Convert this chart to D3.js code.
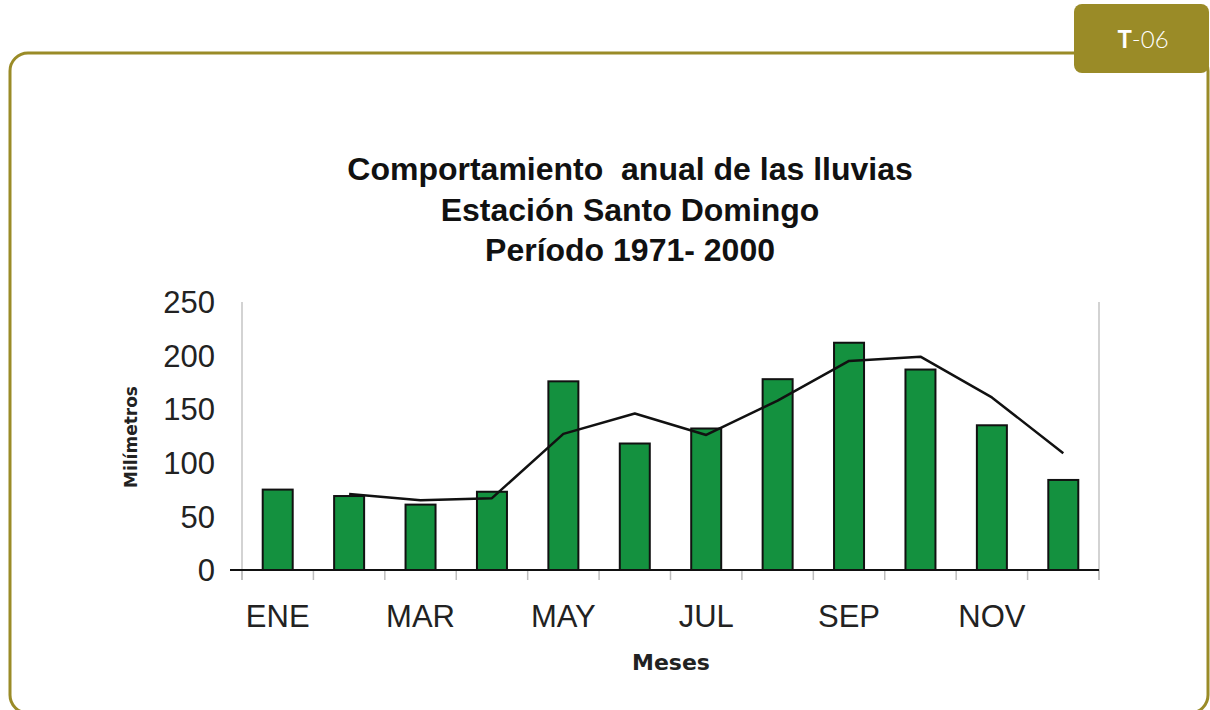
<!DOCTYPE html>
<html><head><meta charset="utf-8">
<script src="https://cdn.jsdelivr.net/npm/d3@7/dist/d3.min.js"></script>
<style>html,body{margin:0;padding:0;background:#fff;}svg{display:block;}</style>
</head><body>
<svg id="c" width="1210" height="710"></svg>
<script>
const months = ["ENE","FEB","MAR","ABR","MAY","JUN","JUL","AGO","SEP","OCT","NOV","DIC"];
const rainfall = [75, 69, 61, 73, 176, 118, 132, 178, 212, 187, 135, 84];
const trendMonths = ["FEB","MAR","ABR","MAY","JUN","JUL","AGO","SEP","OCT","NOV","DIC"];
const trendValues = [71, 65, 67, 127, 146, 126, 158, 195, 199, 161, 109];
const yTicks = [0, 50, 100, 150, 200, 250];
const xLabelMonths = ["ENE","MAR","MAY","JUL","SEP","NOV"];
const titleLines = ["Comportamiento  anual de las lluvias", "Estación Santo Domingo", "Período 1971- 2000"];

const olive = "#9a8b27";
const green = "#14913f";
const svg = d3.select("#c");

// frame
svg.append("rect").attr("x", 10).attr("y", 53).attr("width", 1198).attr("height", 660)
  .attr("rx", 18).attr("fill", "none").attr("stroke", olive).attr("stroke-width", 3);
// tab
svg.append("rect").attr("x", 1074).attr("y", 4).attr("width", 135).attr("height", 69)
  .attr("rx", 8).attr("fill", olive);
const tabT = svg.append("text").attr("x", 1143).attr("y", 48).attr("text-anchor", "middle")
  .attr("fill", "#fff").attr("font-family", "Lato, 'Open Sans', sans-serif").attr("font-size", 24);
tabT.append("tspan").attr("font-weight", 700).text("T");
tabT.append("tspan").attr("font-weight", 300).text("-06");

// title
const titleY = [180, 221, 261];
titleLines.forEach((t, i) => {
  svg.append("text").attr("x", 630).attr("y", titleY[i]).attr("text-anchor", "middle")
    .style("white-space", "pre")
    .attr("font-family", "'Liberation Sans', Arial, sans-serif").attr("font-weight", "bold")
    .attr("font-size", 32).attr("fill", "#111").text(t);
});

const x = d3.scaleBand().domain(months).range([242, 1099]).padding(0);
const y = d3.scaleLinear().domain([0, 250]).range([570, 302]);
const barW = 30;

// left & right gray frame lines of plot
svg.append("line").attr("x1", 242).attr("x2", 242).attr("y1", y(250)).attr("y2", 580)
  .attr("stroke", "#c4c4c4").attr("stroke-width", 1.5);
svg.append("line").attr("x1", 1099).attr("x2", 1099).attr("y1", y(250)).attr("y2", 580)
  .attr("stroke", "#c4c4c4").attr("stroke-width", 1.5);

// category tick marks
const boundaries = months.map(m => x(m)).concat([x.range()[1]]);
svg.append("g").selectAll("line").data(boundaries).join("line")
  .attr("x1", d => d).attr("x2", d => d).attr("y1", 570).attr("y2", 580)
  .attr("stroke", "#bdbdbd").attr("stroke-width", 1.5);

// y tick labels
svg.append("g").selectAll("text").data(yTicks).join("text")
  .attr("x", 215).attr("y", d => y(d)).attr("dy", "0.36em").attr("text-anchor", "end")
  .attr("font-family", "'Liberation Sans', Arial, sans-serif").attr("font-size", 31)
  .attr("fill", "#222").text(d => d);

// bars
svg.append("g").selectAll("rect").data(rainfall).join("rect")
  .attr("x", (d, i) => x(months[i]) + x.bandwidth() / 2 - barW / 2)
  .attr("y", d => y(d)).attr("width", barW).attr("height", d => y(0) - y(d))
  .attr("fill", green).attr("stroke", "#111").attr("stroke-width", 2);

// baseline
svg.append("line").attr("x1", 230).attr("x2", 1099).attr("y1", y(0)).attr("y2", y(0))
  .attr("stroke", "#111").attr("stroke-width", 2);

// trend line
const line = d3.line().x((d, i) => x(trendMonths[i]) + x.bandwidth() / 2).y(d => y(d));
svg.append("path").datum(trendValues).attr("d", line).attr("fill", "none")
  .attr("stroke", "#111").attr("stroke-width", 2.5).attr("stroke-linejoin", "round");

// x labels
svg.append("g").selectAll("text").data(xLabelMonths).join("text")
  .attr("x", d => x(d) + x.bandwidth() / 2).attr("y", 627).attr("text-anchor", "middle")
  .attr("font-family", "'Liberation Sans', Arial, sans-serif").attr("font-size", 31)
  .attr("fill", "#222").text(d => d);

// axis titles
svg.append("text").attr("x", 671).attr("y", 670).attr("text-anchor", "middle")
  .attr("font-family", "'DejaVu Sans', sans-serif").attr("font-weight", "bold")
  .attr("font-size", 22).attr("fill", "#222").text("Meses");
svg.append("text").attr("transform", "translate(137,437) rotate(-90)").attr("text-anchor", "middle")
  .attr("font-family", "'DejaVu Sans', sans-serif").attr("font-weight", "bold")
  .attr("font-size", 17).attr("fill", "#222").text("Milímetros");
</script>
</body></html>
